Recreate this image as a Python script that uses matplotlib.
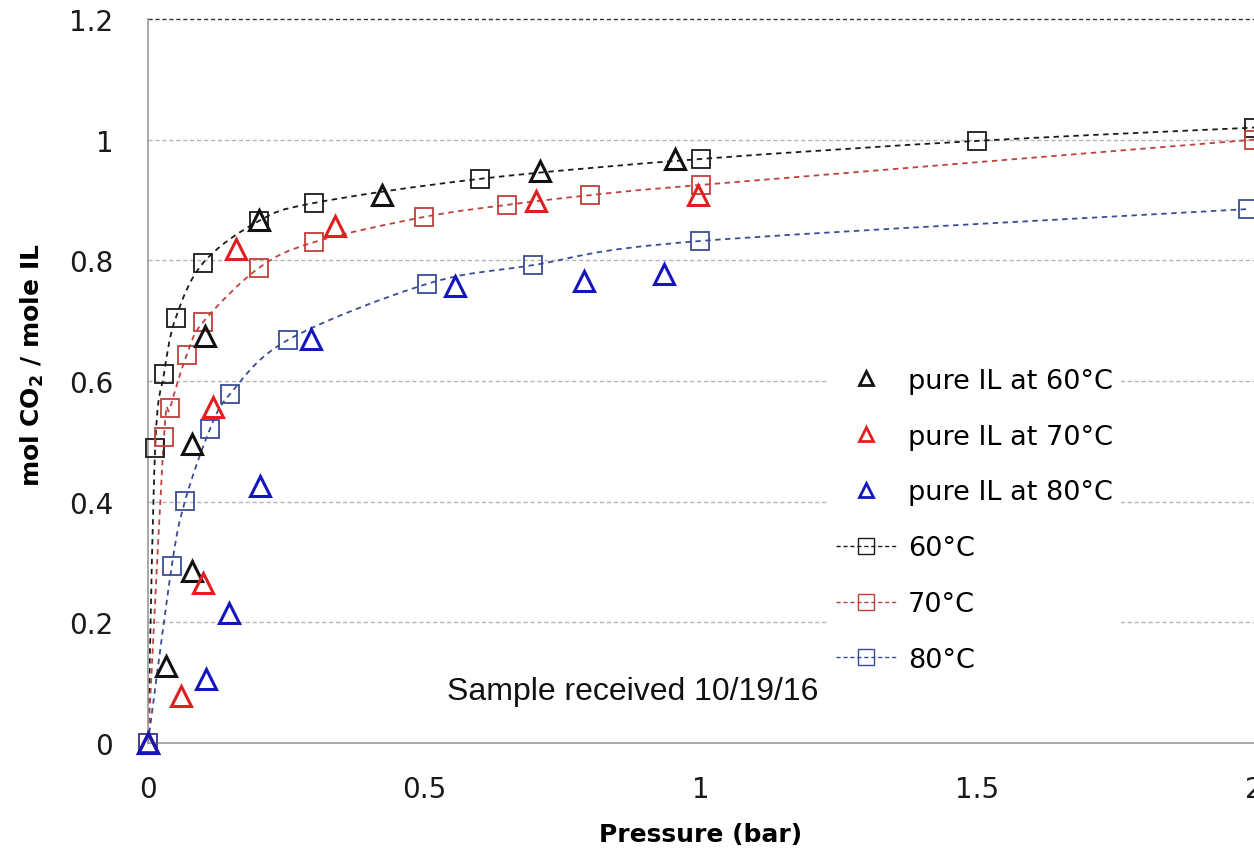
"""CO2 uptake isotherms: pure IL vs. sample, 60/70/80 C."""

import matplotlib
matplotlib.use("Agg")
import matplotlib.pyplot as plt
import numpy as np
from matplotlib.path import Path
from matplotlib.patches import PathPatch
from matplotlib.lines import Line2D

# pure IL (triangles)
il60_p = [0.0, 0.033, 0.080, 0.080, 0.103, 0.200, 0.423, 0.709, 0.953]
il60_y = [0.0, 0.128, 0.285, 0.496, 0.675, 0.867, 0.908, 0.948, 0.968]
il70_p = [0.0, 0.060, 0.100, 0.118, 0.159, 0.338, 0.702, 0.995]
il70_y = [0.0, 0.078, 0.265, 0.557, 0.819, 0.857, 0.898, 0.908]
il80_p = [0.0, 0.105, 0.146, 0.203, 0.295, 0.555, 0.788, 0.933]
il80_y = [0.0, 0.106, 0.215, 0.426, 0.670, 0.757, 0.766, 0.777]

# sample (squares + smoothed dashed line)
s60_p = [0.0, 0.013, 0.029, 0.050, 0.100, 0.200, 0.300, 0.600, 1.000, 1.500, 2.000]
s60_y = [0.0, 0.489, 0.612, 0.704, 0.796, 0.865, 0.895, 0.935, 0.968, 0.998, 1.020]
s70_p = [0.0, 0.029, 0.040, 0.070, 0.100, 0.200, 0.300, 0.500, 0.650, 0.800, 1.000, 2.000]
s70_y = [0.0, 0.507, 0.555, 0.643, 0.698, 0.787, 0.830, 0.872, 0.892, 0.908, 0.925, 1.000]
s80_p = [0.0, 0.043, 0.067, 0.112, 0.148, 0.253, 0.505, 0.696, 0.998, 1.990]
s80_y = [0.0, 0.293, 0.401, 0.520, 0.578, 0.668, 0.761, 0.792, 0.832, 0.885]

il_labels = ["pure IL at 60°C", "pure IL at 70°C", "pure IL at 80°C"]
s_labels = ["60°C", "70°C", "80°C"]
y_ticks = [0, 0.2, 0.4, 0.6, 0.8, 1.0, 1.2]
x_ticks = [0, 0.5, 1, 1.5, 2]

TRI_COLORS = ["#111111", "#e02020", "#1515c0"]
SQ_COLORS = ["#1a1a1a", "#c0403c", "#3a4c96"]
FONT = ["DejaVu Sans"]


def smooth_path(ax, xs, ys):
    """Excel-style smoothed line: Catmull-Rom segments drawn as cubic Beziers."""
    pts = ax.transData.transform(np.column_stack([xs, ys]))
    verts = [pts[0]]
    codes = [Path.MOVETO]
    n = len(pts)
    for i in range(n - 1):
        p0 = pts[max(i - 1, 0)]
        p1 = pts[i]
        p2 = pts[i + 1]
        p3 = pts[min(i + 2, n - 1)]
        c1 = p1 + (p2 - p0) / 6.0
        c2 = p2 - (p3 - p1) / 6.0
        verts += [c1, c2, p2]
        codes += [Path.CURVE4] * 3
    return Path(verts, codes)


plt.rcParams["font.family"] = FONT

fig = plt.figure(figsize=(12.54, 8.54), dpi=100)
ax = fig.add_axes([0.118, 0.1288, 0.882, 0.8478])
ax.set_xlim(0, 2)
ax.set_ylim(0, 1.2)

ax.set_yticks(y_ticks)
ax.set_yticklabels(["0", "0.2", "0.4", "0.6", "0.8", "1", "1.2"])
ax.set_xticks(x_ticks)
ax.set_xticklabels(["0", "0.5", "1", "1.5", "2"])
ax.tick_params(length=0, labelsize=20, labelcolor="#1a1a1a")
ax.tick_params(axis="y", pad=25)
ax.tick_params(axis="x", pad=23)

for y in y_ticks[1:-1]:
    ax.axhline(y, color="#b5b5b5", lw=1.0, ls=(0, (3, 2)), zorder=0)
ax.axhline(1.2, color="#333333", lw=1.0, ls=(0, (3, 2)), zorder=0, clip_on=False)

for side in ["top", "right"]:
    ax.spines[side].set_visible(False)
for side in ["left", "bottom"]:
    ax.spines[side].set_color("#9a9a9a")
    ax.spines[side].set_linewidth(1.2)

fig.canvas.draw()

handles = []
for px, py, c, lab in zip([s60_p, s70_p, s80_p], [s60_y, s70_y, s80_y], SQ_COLORS, s_labels):
    patch = PathPatch(smooth_path(ax, px, py), transform=None, fill=False,
                      edgecolor=c, lw=1.3, ls=(0, (3, 2.5)), zorder=2)
    ax.add_artist(patch)
    ax.plot(px, py, ls="none", marker="s", ms=13, mfc="none", mec=c, mew=1.3,
            zorder=3, clip_on=False)
    handles.append(Line2D([], [], color=c, lw=1.0, ls=(0, (3, 2)), marker="s",
                          ms=11, mfc="none", mec=c, mew=1.0, label=lab))

tri_handles = []
for px, py, c, lab in zip([il60_p, il70_p, il80_p], [il60_y, il70_y, il80_y], TRI_COLORS, il_labels):
    ax.plot(px, py, ls="none", marker="^", ms=14, mfc="none", mec=c, mew=2.2,
            zorder=4, clip_on=False)
    tri_handles.append(Line2D([], [], ls="none", marker="^", ms=10, mfc="none",
                              mec=c, mew=2.0, label=lab))

leg = ax.legend(handles=tri_handles + handles, loc="upper left",
                bbox_to_anchor=(0.6497, 0.5935), bbox_transform=fig.transFigure,
                fontsize=19.5, frameon=True, facecolor="white", edgecolor="none",
                framealpha=1.0, handlelength=2.2, handletextpad=0.45,
                labelspacing=1.1, borderpad=0.3)
leg.set_zorder(5)

ax.text(0.3565, 0.18, "Sample received 10/19/16", transform=fig.transFigure,
        fontsize=23, family=["Liberation Sans", "DejaVu Sans"], color="#111111")

ax.set_xlabel("Pressure (bar)", fontsize=18, fontweight="bold", labelpad=14)
ax.set_ylabel("mol CO$_\\mathregular{2}$ / mole IL", fontsize=18, fontweight="bold")
ax.yaxis.set_label_coords(-0.0925, 0.523)

fig.savefig("out.png", dpi=100)
plt.close(fig)
